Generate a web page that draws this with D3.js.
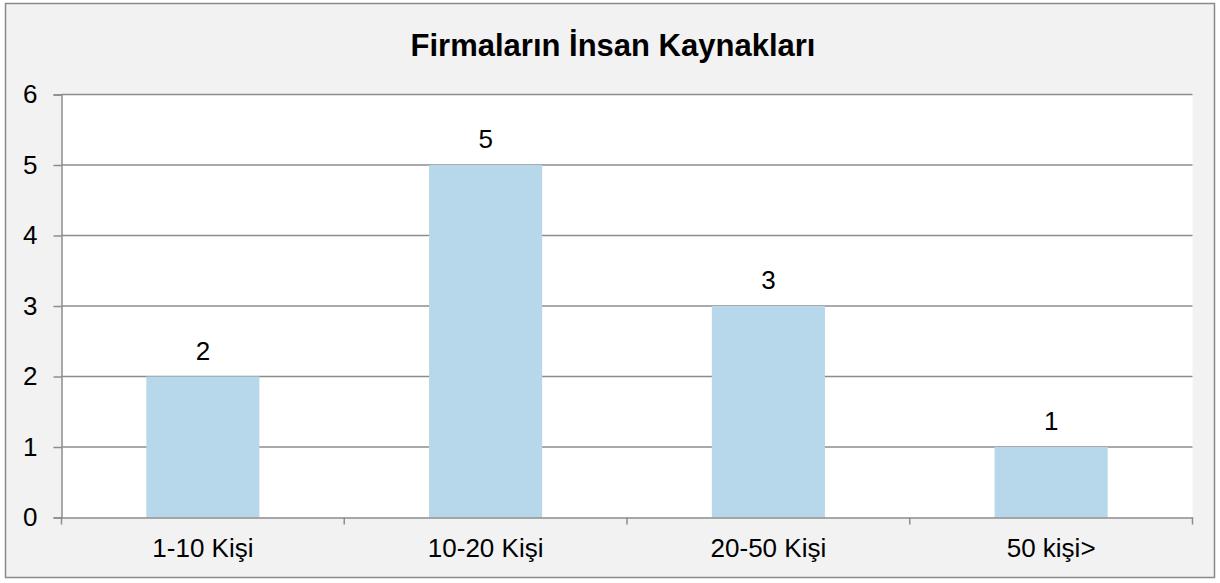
<!DOCTYPE html>
<html><head><meta charset="utf-8">
<script src="https://cdn.jsdelivr.net/npm/d3@7"></script>
<style>html,body{margin:0;padding:0;background:#fff;}svg{display:block;}</style>
</head><body>
<script>
const title = "Firmaların İnsan Kaynakları";
const categories = ["1-10 Kişi", "10-20 Kişi", "20-50 Kişi", "50 kişi>"];
const values = [2, 5, 3, 1];
const yTicks = [0, 1, 2, 3, 4, 5, 6];

const W = 1220, H = 583;
const font = "'Liberation Sans', Arial, sans-serif";
const fs = 26;
const svg = d3.select("body").append("svg").attr("width", W).attr("height", H);

svg.append("rect").attr("x", 5.5).attr("y", 3.5).attr("width", 1209).attr("height", 574)
  .attr("fill", "#f2f2f2").attr("stroke", "#8a8a8a").attr("stroke-width", 1.5);

const m = {left: 61.5, right: 1192.5, top: 94.5, bottom: 517.5};
svg.append("rect").attr("x", m.left).attr("y", m.top).attr("width", m.right - m.left)
  .attr("height", m.bottom - m.top).attr("fill", "#fff");

const x = d3.scaleBand().domain(categories).range([m.left, m.right]).paddingInner(0.6).paddingOuter(0.3);
const y = d3.scaleLinear().domain([0, 6]).range([m.bottom, m.top]);

// gridlines
svg.append("g").selectAll("line").data(yTicks.filter(d => d > 0)).join("line")
  .attr("x1", m.left).attr("x2", m.right).attr("y1", d => y(d)).attr("y2", d => y(d))
  .attr("stroke", "#8c8c8c").attr("stroke-width", 1.5);

// bars
svg.append("g").selectAll("rect").data(values).join("rect")
  .attr("x", (d, i) => x(categories[i])).attr("width", x.bandwidth())
  .attr("y", d => y(d)).attr("height", d => y(0) - y(d)).attr("fill", "#b7d7ea");

// data labels
svg.append("g").selectAll("text").data(values).join("text")
  .attr("x", (d, i) => x(categories[i]) + x.bandwidth() / 2)
  .attr("y", d => y(d) - 17).attr("text-anchor", "middle")
  .attr("font-family", font).attr("font-size", fs).attr("fill", "#000").text(d => d);

// y axis
const yAxis = d3.axisLeft(y).tickValues(yTicks).tickSize(8).tickPadding(16).tickFormat(d3.format("d"));
const gy = svg.append("g").attr("transform", `translate(${m.left},0)`).call(yAxis);
gy.select(".domain").attr("stroke", "#8c8c8c").attr("stroke-width", 1.5);
gy.selectAll(".tick line").attr("stroke", "#8c8c8c").attr("stroke-width", 1.5);
gy.selectAll(".tick text").attr("font-family", font).attr("font-size", fs).attr("fill", "#000");

// x axis
const xAxis = d3.axisBottom(x).tickSize(0).tickPadding(21);
const gx = svg.append("g").attr("transform", `translate(0,${m.bottom})`).call(xAxis);
gx.select(".domain").attr("stroke", "#8c8c8c").attr("stroke-width", 1.5);
gx.selectAll(".tick text").attr("font-family", font).attr("font-size", fs).attr("fill", "#000");
// boundary ticks
const bounds = [m.left, ...categories.map(c => x(c) - x.step() * x.paddingInner() / 2).slice(1), m.right];
gx.append("g").selectAll("line").data(bounds).join("line")
  .attr("x1", d => d).attr("x2", d => d).attr("y1", 0).attr("y2", 7)
  .attr("stroke", "#8c8c8c").attr("stroke-width", 1.5);

svg.append("text").attr("x", 613).attr("y", 56).attr("text-anchor", "middle")
  .attr("font-family", font).attr("font-size", 31).attr("font-weight", "bold").attr("fill", "#000").text(title);
</script>
</body></html>
